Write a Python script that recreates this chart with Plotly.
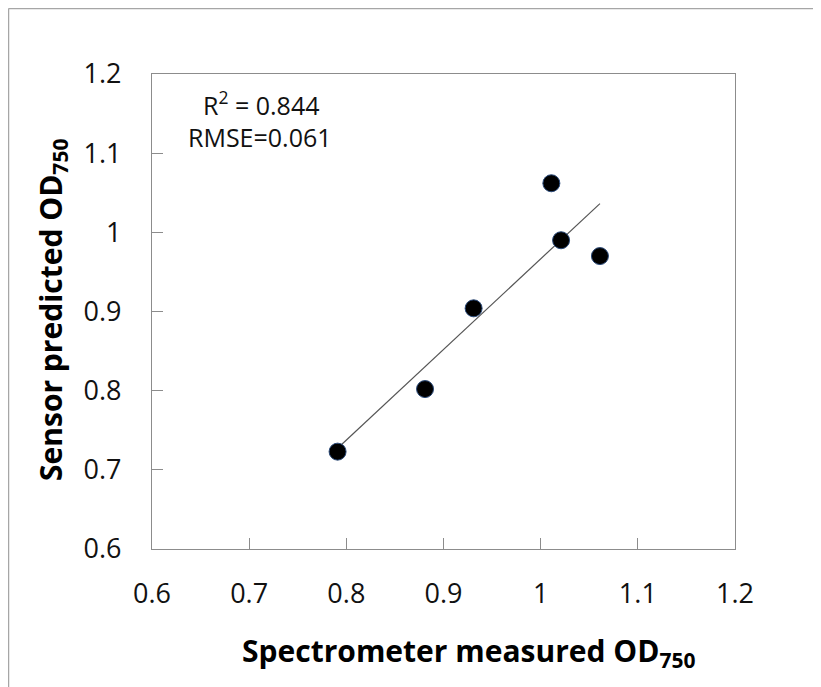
import plotly.graph_objects as go
import numpy as np

measured = [0.791, 0.881, 0.931, 1.011, 1.021, 1.061]
predicted = [0.723, 0.802, 0.904, 1.062, 0.990, 0.970]
tick_vals = [0.6, 0.7, 0.8, 0.9, 1.0, 1.1, 1.2]
tick_text = ["0.6", "0.7", "0.8", "0.9", "1", "1.1", "1.2"]

slope, intercept = np.polyfit(measured, predicted, 1)
fit_x = [min(measured), max(measured)]
fit_y = [slope * v + intercept for v in fit_x]

OFF = 8  # page body margin
W, H = 821 - OFF, 687 - OFF
L, T = 152 - OFF, 74 - OFF
R = W - (735 - OFF)
B = H - (549 - OFF)
pw, ph = W - L - R, H - T - B

def px(x):
    return (x - OFF - L) / pw

def py(y):
    return (H - B - (y - OFF)) / ph

FONT = "Open Sans"

fig = go.Figure()
fig.add_trace(go.Scatter(x=fit_x, y=fit_y, mode="lines",
                         line=dict(color="#555555", width=1.2), hoverinfo="skip"))
fig.add_trace(go.Scatter(x=measured, y=predicted, mode="markers",
                         marker=dict(color="black", size=17,
                                     line=dict(color="#2a4a7a", width=1))))

axis_common = dict(showgrid=False, zeroline=False, showline=True, linecolor="#8c8c8c",
                   linewidth=1.2, mirror=True, ticks="inside", ticklen=11, tickcolor="#8c8c8c",
                   tickfont=dict(family=FONT, size=27, color="#111111"),
                   tickvals=tick_vals, ticktext=tick_text)
fig.update_xaxes(range=[0.6, 1.2], ticklabelstandoff=20, **axis_common)
fig.update_yaxes(range=[0.6, 1.2], ticklabelstandoff=24, **axis_common)

fig.update_layout(
    width=W, height=H, showlegend=False,
    margin=dict(l=L, r=R, t=T, b=B),
    plot_bgcolor="white", paper_bgcolor="white",
    annotations=[
        dict(text="R<sup>2</sup> = 0.844", x=px(201), y=py(103), xref="paper", yref="paper",
             xanchor="left", yanchor="middle", showarrow=False,
             font=dict(family=FONT, size=25, color="#111111")),
        dict(text="RMSE=0.061", x=px(186), y=py(137), xref="paper", yref="paper",
             xanchor="left", yanchor="middle", showarrow=False,
             font=dict(family=FONT, size=25, color="#111111")),
        dict(text="<b>Spectrometer measured OD<sub>750</sub></b>", x=px(468), y=py(652),
             xref="paper", yref="paper", xanchor="center", yanchor="middle", showarrow=False,
             font=dict(family=FONT, size=30, color="black")),
        dict(text="<b>Sensor predicted OD<sub>750</sub></b>", x=px(52), y=py(310),
             xref="paper", yref="paper", xanchor="center", yanchor="middle", showarrow=False,
             textangle=-90, font=dict(family=FONT, size=30, color="black")),
    ],
    shapes=[
        dict(type="line", xref="paper", yref="paper", x0=px(8.5), x1=px(821), y0=py(8.5), y1=py(8.5),
             line=dict(color="#a6a6a6", width=1.5)),
        dict(type="line", xref="paper", yref="paper", x0=px(8.5), x1=px(8.5), y0=py(8.5), y1=py(687),
             line=dict(color="#a6a6a6", width=1.5)),
    ],
)

fig.write_html("out.html")
